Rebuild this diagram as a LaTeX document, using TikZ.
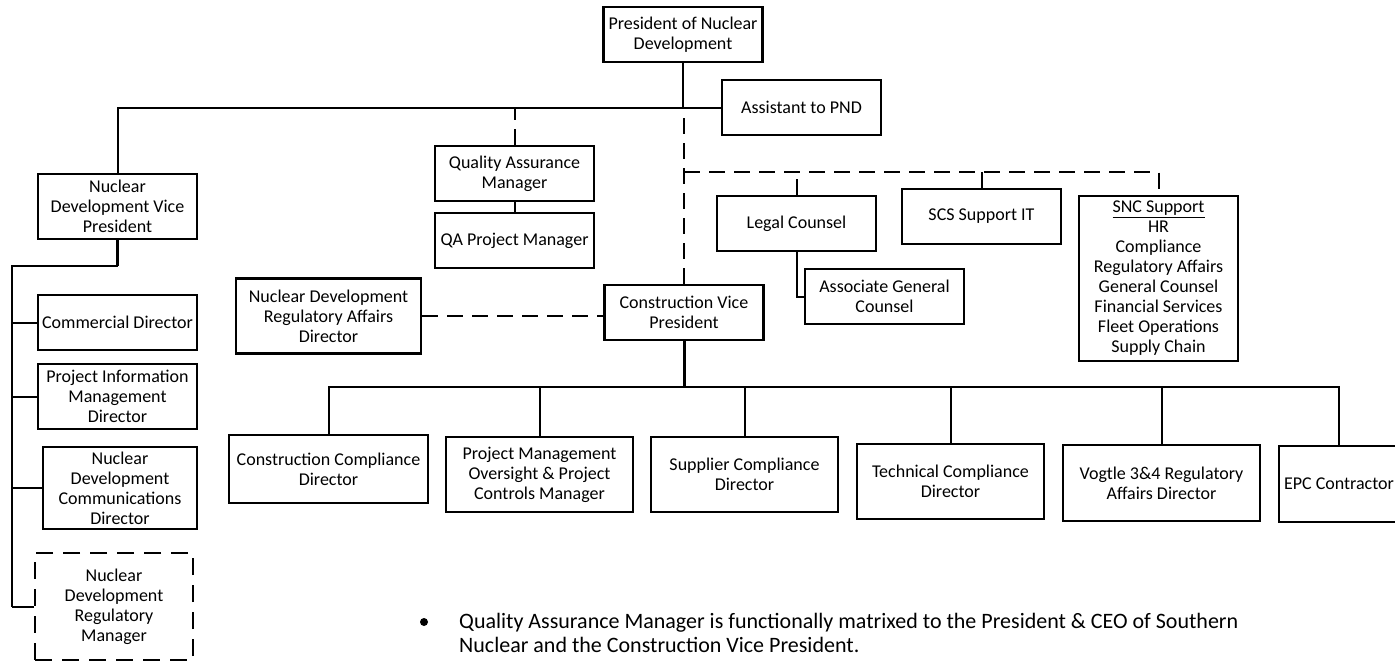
\documentclass[tikz,border=0pt]{standalone}
\usepackage{fontspec}
\setmainfont{Carlito}

\begin{document}
\begin{tikzpicture}[x=1pt, y=-1pt,
    box/.style={draw, line width=2.2pt, align=center, inner sep=0pt, font=\fontsize{18}{20}\selectfont},
    dbox/.style={box, dash pattern=on 17pt off 10pt},
    boxsize/.style 2 args={minimum width=#1, minimum height=#2},
    conn/.style={line width=2pt},
    trunkconn/.style={line width=3pt},
    dconn/.style={line width=2pt, dash pattern=on 16pt off 9pt}]
    \useasboundingbox (0,0) rectangle (1395,661);

    % draw top of the chart
    \node[box, boxsize={159}{55}] (pnd) at (683,34.5) {President of Nuclear\\Development};
    \node[box, boxsize={159}{55}] (asst) at (801.5,107.5) {Assistant to PND};
    \node[box, boxsize={159}{65}] (ndvp) at (117.5,206.5) {Nuclear\\Development Vice\\President};
    \node[box, boxsize={159}{55}] (qam) at (514.5,173.5) {Quality Assurance\\Manager};
    \node[box, boxsize={159}{55}] (qapm) at (514.5,240.5) {QA Project Manager};

    % draw support boxes
    \node[box, boxsize={159}{55}] (legal) at (796.5,223.5) {Legal Counsel};
    \node[box, boxsize={159}{55}] (scs) at (981.5,216.5) {SCS Support IT};
    \node[box, boxsize={159}{165}] (snc) at (1158.5,278.5) {\underline{SNC Support}\\HR\\Compliance\\Regulatory Affairs\\General Counsel\\Financial Services\\Fleet Operations\\Supply Chain};
    \node[box, boxsize={159}{55}] (agc) at (884.5,296.5) {Associate General\\Counsel};

    % draw construction vice president
    \node[box, boxsize={159}{55}] (cvp) at (684,312.5) {Construction Vice\\President};
    \node[box, boxsize={185}{75}] (ndrad) at (328.5,316) {Nuclear Development\\Regulatory Affairs\\Director};

    % draw left column
    \node[box, boxsize={159}{55}] (comm) at (117.5,322.5) {Commercial Director};
    \node[box, boxsize={159}{65}] (pim) at (117.5,396.5) {Project Information\\Management\\Director};
    \node[box, boxsize={154}{82}] (ndcd) at (120,488) {Nuclear\\Development\\Communications\\Director};
    \node[dbox, boxsize={158}{107}] (ndrm) at (114,606.5) {Nuclear\\Development\\Regulatory\\Manager};

    % draw bottom row
    \node[box, boxsize={199}{68}] (ccd) at (328.5,469) {Construction Compliance\\Director};
    \node[box, boxsize={187}{75}] (pmo) at (539.5,474.5) {Project Management\\Oversight \& Project\\Controls Manager};
    \node[box, boxsize={187}{75}] (sup) at (744.5,474.5) {Supplier Compliance\\Director};
    \node[box, boxsize={187}{75}] (tech) at (950.5,481.5) {Technical Compliance\\Director};
    \node[box, boxsize={197}{76}] (vog) at (1161.5,483) {Vogtle 3\&4 Regulatory\\Affairs Director};
    \node[box, boxsize={120}{76}] (epc) at (1339,484) {EPC Contractor};

    % draw solid lines
    \draw[conn] (pnd) -- (pnd |- asst.west);
    \draw[conn] (ndvp) |- (asst.west);
    \draw[conn] (qam) -- (qapm);
    \draw[conn] (legal) |- (agc);

    % draw dashed lines
    \coordinate (sbus) at (684,172);
    \draw[dconn] (cvp) -- (cvp |- asst.west);
    \draw[dconn] (sbus) -| (snc);
    \foreach \n in {legal,scs}
      \draw[dconn] (\n) -- (\n |- sbus);
    \draw[dconn] (qam) -- (qam |- asst.west);
    \draw[dconn] (ndrad.east) -- (ndrad.east -| cvp.west);

    % draw left trunk
    \coordinate (trunk) at (12,266);
    \draw[trunkconn] (ndvp) -- (ndvp |- trunk);
    \draw[conn] (ndvp |- trunk) -- (trunk) -- (trunk |- ndrm.west);
    \foreach \n in {comm,pim,ndcd,ndrm}
      \draw[conn] (\n.west) -- (\n.west -| trunk);

    % draw bottom bus
    \coordinate (cbus) at (684,387);
    \draw[trunkconn] (cvp) -- (cbus);
    \foreach \n in {ccd,pmo,sup,tech,vog,epc}
      \draw[conn] (cbus) -| (\n.north);

    % draw note
    \node[circle, fill, inner sep=0pt, minimum size=8pt] (bullet) at (424,622) {};
    \node[anchor=north west, align=left, inner sep=0pt, font=\fontsize{22}{24}\selectfont] (note) at (459,613)
      {Quality Assurance Manager is functionally matrixed to the President \& CEO of Southern\\Nuclear and the Construction Vice President.};
\end{tikzpicture}
\end{document}
